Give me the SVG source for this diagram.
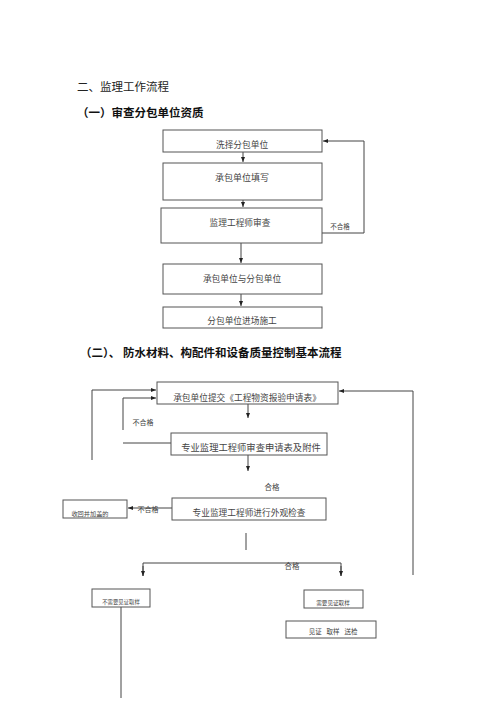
<svg xmlns="http://www.w3.org/2000/svg" width="500" height="707" viewBox="0 0 500 707">
<style>
.box{fill:#fff;stroke:#555;stroke-width:1}
.ln{fill:none;stroke:#444;stroke-width:1}
.t{font-family:"Liberation Serif","Noto Sans CJK SC",serif;fill:#444;text-anchor:middle}
.h{font-family:"Liberation Serif","Noto Sans CJK SC",serif;fill:#222;font-size:11.5px}
.hb{font-family:"Liberation Sans","Noto Sans CJK SC",sans-serif;fill:#111;font-size:11.5px;font-weight:bold}
</style>
<defs>
<marker id="ar" viewBox="0 0 10 10" refX="10" refY="5" markerWidth="5" markerHeight="5" orient="auto">
<path d="M0,1 L10,5 L0,9 Z" fill="#222"/>
</marker>
</defs>
<rect width="500" height="707" fill="#fff"/>
<text class="h" x="77" y="91">二、监理工作流程</text>
<text class="hb" x="77" y="117">（一）审查分包单位资质</text>
<text class="hb" x="80" y="357">（二）、</text>
<text class="hb" x="123" y="357">防水材料、构配件和设备质量控制基本流程</text>

<g id="connectors">
<line class="ln" x1="243" y1="152" x2="243" y2="162" marker-end="url(#ar)"/>
<line class="ln" x1="243" y1="200" x2="243" y2="207" marker-end="url(#ar)"/>
<polyline class="ln" points="322,233 364,233 364,141 323,141" marker-end="url(#ar)"/>
<line class="ln" x1="241" y1="243" x2="241" y2="263" marker-end="url(#ar)"/>
<line class="ln" x1="241" y1="294" x2="241" y2="306" marker-end="url(#ar)"/>
<polyline class="ln" points="92,460 92,390 156,390" marker-end="url(#ar)"/>
<polyline class="ln" points="123,430 123,398 156,398" marker-end="url(#ar)"/>
<line class="ln" x1="123" y1="443" x2="171" y2="443"/>
<line class="ln" x1="248" y1="404" x2="248" y2="418" marker-end="url(#ar)"/>
<line class="ln" x1="248" y1="455" x2="248" y2="471" marker-end="url(#ar)"/>
<polyline class="ln" points="413,575 413,391 339,391" marker-end="url(#ar)"/>
<line class="ln" x1="172" y1="508" x2="128" y2="508" marker-end="url(#ar)"/>
<line class="ln" x1="246" y1="533" x2="246" y2="550"/>
<polyline class="ln" points="143,576 143,563 341,563 341,576"/>
<line class="ln" x1="143" y1="566" x2="143" y2="576" marker-end="url(#ar)"/>
<line class="ln" x1="341" y1="566" x2="341" y2="576" marker-end="url(#ar)"/>
<line class="ln" x1="121" y1="607" x2="121" y2="698"/>
<text class="t" x="340" y="229" style="font-size:6.5px">不合格</text>
<text class="t" x="143" y="425" style="font-size:7px">不合格</text>
<text class="t" x="272" y="490" style="font-size:7.5px">合格</text>
<text class="t" x="148" y="512" style="font-size:7px">不合格</text>
<text class="t" x="292" y="569" style="font-size:7.5px">合格</text>
</g>

<g id="n1"><rect class="box" x="163" y="130" width="159" height="22"/><text class="t" x="242" y="148" style="font-size:8.7px">洗择分包单位</text></g>
<g id="n2"><rect class="box" x="163" y="163" width="159" height="37"/><text class="t" x="242" y="181" style="font-size:9px">承包单位填写</text></g>
<g id="n3"><rect class="box" x="161" y="208" width="161" height="35"/><text class="t" x="240" y="226" style="font-size:8.7px">监理工程师审查</text></g>
<g id="n4"><rect class="box" x="163" y="264" width="159" height="30"/><text class="t" x="242" y="282" style="font-size:8.7px">承包单位与分包单位</text></g>
<g id="n5"><rect class="box" x="163" y="307" width="159" height="21"/><text class="t" x="242" y="324" style="font-size:8.7px">分包单位进场施工</text></g>

<g id="nA"><rect class="box" x="157" y="382" width="181" height="22"/><text class="t" x="247" y="401" style="font-size:8.7px">承包单位提交《工程物资报验申请表》</text></g>
<g id="nB"><rect class="box" x="171" y="433" width="156" height="22"/><text class="t" x="251" y="451" style="font-size:9.3px">专业监理工程师审查申请表及附件</text></g>
<g id="nC"><rect class="box" x="172" y="498" width="154" height="22"/><text class="t" x="249" y="516" style="font-size:8.7px">专业监理工程师进行外观检查</text></g>
<g id="nL"><rect class="box" x="63" y="500" width="64" height="18"/><text class="t" x="90" y="516" style="font-size:6.2px">收回并加盖的</text></g>
<g id="nD"><rect class="box" x="92" y="589" width="58" height="18"/><text class="t" x="121" y="604" style="font-size:5.4px">不需要见证取样</text></g>
<g id="nE"><rect class="box" x="304" y="590" width="59" height="18"/><text class="t" x="333" y="605" style="font-size:5.6px">需要见证取样</text></g>
<g id="nF"><rect class="box" x="286" y="621" width="90" height="17"/><text class="t" x="333" y="634" style="font-size:6.5px" xml:space="preserve">见证   取样   送检</text></g>
</svg>
